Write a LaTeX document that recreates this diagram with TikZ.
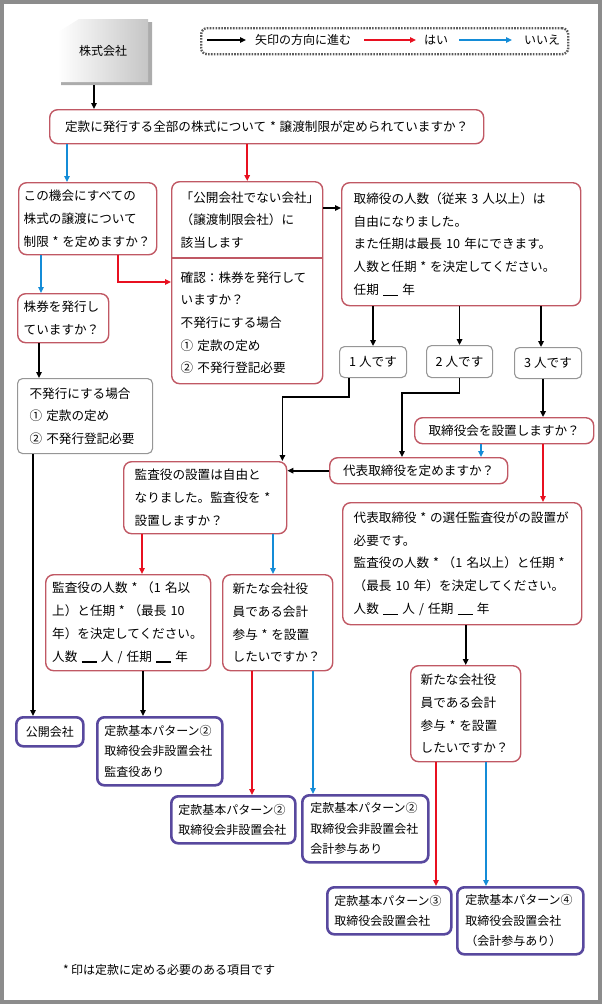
\documentclass[tikz,border=0pt]{standalone}
\usepackage{fontspec}
\setmainfont{Noto Sans CJK JP}
\usepackage{xcolor}
\usepackage{tikz}
\usetikzlibrary{arrows.meta, positioning, calc}

\definecolor{boxred}{RGB}{192,88,100}
\definecolor{boxgray}{RGB}{150,150,150}
\definecolor{patblue}{RGB}{88,72,158}
\definecolor{haired}{RGB}{232,16,32}
\definecolor{iieblue}{RGB}{20,140,215}
\definecolor{framegray}{RGB}{140,140,140}
\definecolor{legendgray}{RGB}{90,90,90}

\newcommand{\honbun}{\fontsize{12.6pt}{22.7pt}\selectfont}
\newcommand{\chiisai}{\fontsize{12pt}{20.6pt}\selectfont}
\newcommand{\kuran}{\rule[-1.5pt]{15pt}{1.2pt}}
\newcommand{\hoshi}{\hspace{0.3em}*\hspace{0.3em}}

\begin{document}
\begin{tikzpicture}[x=1pt, y=-1pt,
        rbox/.style={rectangle, draw=boxred, line width=1.4pt, rounded corners=8pt, align=left, anchor=north west, inner xsep=7pt, font=\honbun},
        cbox/.style={rectangle, draw=boxred, line width=1.4pt, rounded corners=8pt, align=center, anchor=north west, font=\honbun},
        gbox/.style={rectangle, draw=boxgray, line width=1.1pt, rounded corners=5pt, align=left, anchor=north west, font=\honbun},
        pbox/.style={rectangle, draw=patblue, line width=2.6pt, rounded corners=7pt, align=left, anchor=north west, inner xsep=7pt, font=\chiisai},
        susumu/.style={-{Triangle[length=6pt,width=5.5pt]}, line width=1.8pt},
        hai/.style={-{Triangle[length=6pt,width=5.5pt]}, line width=1.5pt, draw=haired},
        iie/.style={-{Triangle[length=6pt,width=5.5pt]}, line width=1.5pt, draw=iieblue}]

        \useasboundingbox (0,0) rectangle (602,1004);
        \draw[framegray, line width=4pt] (2,2) rectangle (600,1002);

        % Start
        \fill[gray!65] (61,35) -- (82,22) -- (152,22) -- (152,85) -- (61,85) -- cycle;
        \shade[left color=white, right color=gray!45] (58,32) -- (79,19) -- (148,19) -- (148,82) -- (58,82) -- cycle;
        \node[minimum width=90pt, minimum height=63pt, font=\chiisai] (kabu) at (103,50.5) {\raisebox{-5pt}{株式会社}};

        % Legend
        \node[draw=legendgray, line width=2.4pt, dash pattern=on 1.6pt off 1.3pt, rounded corners=6pt, minimum width=367pt, minimum height=26pt, anchor=north west] (legend) at (200,27) {};
        \coordinate (lgsusumu) at (207,40);
        \coordinate (lghai) at (364,40);
        \coordinate (lgiie) at (459,40);
        \node[anchor=west, inner sep=0pt, font=\chiisai] (lgtext1) at (255,40) {矢印の方向に進む};
        \node[anchor=west, inner sep=0pt, font=\chiisai] (lgtext2) at (424,40) {はい};
        \node[anchor=west, inner sep=0pt, font=\chiisai] (lgtext3) at (524,40) {いいえ};
        \draw[susumu] (lgsusumu) -- ([xshift=-9pt]lgtext1.west);
        \draw[hai] (lghai) -- ([xshift=-8pt]lgtext2.west);
        \draw[iie] (lgiie) -- ([xshift=-12pt]lgtext3.west);

        % Questions
        \node[cbox, minimum width=434pt, minimum height=34pt] (teikan) at (49,109) {定款に発行する全部の株式について\hoshi 譲渡制限が定められていますか？};
        \node[rbox, inner xsep=5pt, text width=128pt, minimum height=72pt] (kikai) at (18,182) {この機会にすべての\\株式の譲渡について\\制限\hoshi を定めますか？};
        \node[rbox, inner xsep=9pt, text width=133pt, minimum height=202pt] (kokai) at (171,181) {「公開会社でない会社」\\（譲渡制限会社）に\\該当します\\[12pt]確認：株券を発行して\\いますか？\\不発行にする場合\\①~定款の定め\\②~不発行登記必要};
        \draw[boxred, line width=1.4pt] ([yshift=-77pt]kokai.north west) -- ([yshift=-77pt]kokai.north east);
        \node[rbox, inner xsep=12pt, text width=215pt, minimum height=123pt] (torinin) at (341,182) {取締役の人数（従来~3~人以上）は\\自由になりました。\\また任期は最長~10~年にできます。\\人数と任期\hoshi を決定してください。\\任期~\kuran~年};

        \node[gbox, align=center, minimum width=67pt, minimum height=31pt] (nin1) at (339,346) {1~人です};
        \node[gbox, align=center, minimum width=66pt, minimum height=32pt] (nin2) at (426,345) {2~人です};
        \node[gbox, align=center, minimum width=67pt, minimum height=31pt] (nin3) at (514,347) {3~人です};

        \node[rbox, inner xsep=6pt, text width=79pt, minimum height=49pt] (kabuken) at (17,293) {株券を発行し\\ていますか？};
        \node[gbox, inner xsep=12pt, text width=111pt, minimum height=75pt] (fuhakko) at (17,378) {不発行にする場合\\①~定款の定め\\②~不発行登記必要};

        \node[rbox, inner xsep=11pt, text width=141pt, minimum height=72pt] (kansa) at (123,461) {監査役の設置は自由と\\なりました。監査役を\hoshi\\設置しますか？};
        \node[cbox, minimum width=179pt, minimum height=26pt] (torikai) at (414,417) {取締役会を設置しますか？};
        \node[cbox, minimum width=178pt, minimum height=26pt] (daihyo) at (329,457) {代表取締役を定めますか？};
        \node[rbox, inner xsep=11pt, text width=217pt, minimum height=122pt] (hitsuyo) at (342,502) {代表取締役\hoshi の選任監査役がの設置が\\必要です。\\監査役の人数\hoshi（1~名以上）と任期\hoshi\\（最長~10~年）を決定してください。\\人数~\kuran~人~/~任期~\kuran~年};

        \node[rbox, inner xsep=6.5pt, text width=152pt, minimum height=96pt] (kansanin) at (45,574) {監査役の人数\hoshi（1~名以\\上）と任期\hoshi（最長~10\\年）を決定してください。\\人数~\kuran~人~/~任期~\kuran~年};
        \node[rbox, inner xsep=10pt, text width=90pt, minimum height=96pt] (kaikei) at (222,574) {新たな会社役\\員である会計\\参与\hoshi を設置\\したいですか？};
        \node[rbox, inner xsep=10pt, text width=90pt, minimum height=96pt] (kaikeib) at (410,665) {新たな会社役\\員である会計\\参与\hoshi を設置\\したいですか？};

        % Results
        \node[pbox, align=center, minimum width=67pt, minimum height=29pt] (kokaisha) at (15,716) {公開会社};
        \node[pbox, text width=111pt, minimum height=68pt] (pat2a) at (96,716) {定款基本パターン②\\取締役会非設置会社\\監査役あり};
        \node[pbox, text width=110pt, minimum height=47pt] (pat2b) at (170,795) {定款基本パターン②\\取締役会非設置会社};
        \node[pbox, inner xsep=8pt, text width=110pt, minimum height=67pt] (pat2c) at (301,794) {定款基本パターン②\\取締役会非設置会社\\会計参与あり};
        \node[pbox, text width=110pt, minimum height=47pt] (pat3) at (326,886) {定款基本パターン③\\取締役会設置会社};
        \node[pbox, inner xsep=8pt, text width=110pt, minimum height=67pt] (pat4) at (456,886) {定款基本パターン④\\取締役会設置会社\\（会計参与あり）};

        \node[anchor=west, inner sep=0pt, font=\chiisai] (note) at (63,970) {*\hspace{0.2em}印は定款に定める必要のある項目です};

        % Arrows
        \draw[susumu] ([xshift=-9pt,yshift=-3pt]kabu.south) -- ([xshift=-9pt]kabu.south |- teikan.north);
        \draw[iie] ([xshift=49pt]kikai.north west |- teikan.south) -- ([xshift=49pt]kikai.north west);
        \draw[hai] (kokai.north |- teikan.south) -- (kokai.north);
        \draw[iie] ([xshift=23pt]kikai.south west) -- ([xshift=23pt]kikai.south west |- kabuken.north);
        \draw[hai] ([xshift=100pt]kikai.south west) |- ([yshift=-101pt]kokai.north west);
        \draw[susumu] ([xshift=22pt]kabuken.south west) -- ([xshift=22pt]kabuken.south west |- fuhakko.north);
        \draw[susumu] ([xshift=16pt]fuhakko.south west) -- ([xshift=16pt]fuhakko.south west |- kokaisha.north);
        \draw[susumu] ([yshift=-27pt]kokai.north east) -- ([yshift=-27pt]kokai.north east -| torinin.west);

        \draw[susumu] (nin1.north |- torinin.south) -- (nin1.north);
        \draw[susumu] (nin2.north |- torinin.south) -- (nin2.north);
        \draw[susumu] ([xshift=-7pt]nin3.north |- torinin.south) -- ([xshift=-7pt]nin3.north);

        \draw[susumu] ([xshift=10pt]nin1.south west) -- ++(0,19) -| ([xshift=-5pt]kansa.north east);
        \draw[susumu] (nin2.south) -- ++(0,15) -| ([xshift=73pt]daihyo.north west);
        \draw[susumu] ([xshift=-5pt]nin3.south) -- ([xshift=-5pt]nin3.south |- torikai.north);
        \draw[iie] ([xshift=67pt]torikai.south west) -- ([xshift=67pt]torikai.south west |- daihyo.north);
        \draw[hai] ([xshift=129pt]torikai.south west) -- ([xshift=129pt]torikai.south west |- hitsuyo.north);
        \draw[susumu] (daihyo.west) -- (kansa.east |- daihyo.west);

        \draw[hai] ([xshift=19pt]kansa.south west) -- ([xshift=19pt]kansa.south west |- kansanin.north);
        \draw[iie] ([xshift=150pt]kansa.south west) -- ([xshift=150pt]kansa.south west |- kaikei.north);
        \draw[susumu] ([xshift=98pt]kansanin.south west) -- ([xshift=98pt]kansanin.south west |- pat2a.north);
        \draw[hai] ([xshift=30pt]kaikei.south west) -- ([xshift=30pt]kaikei.south west |- pat2b.north);
        \draw[iie] ([xshift=91pt]kaikei.south west) -- ([xshift=91pt]kaikei.south west |- pat2c.north);
        \draw[susumu] (kaikeib.north |- hitsuyo.south) -- (kaikeib.north);
        \draw[hai] ([xshift=26pt]kaikeib.south west) -- ([xshift=26pt]kaikeib.south west |- pat3.north);
        \draw[iie] ([xshift=76pt]kaikeib.south west) -- ([xshift=76pt]kaikeib.south west |- pat4.north);

    \end{tikzpicture}
\end{document}
